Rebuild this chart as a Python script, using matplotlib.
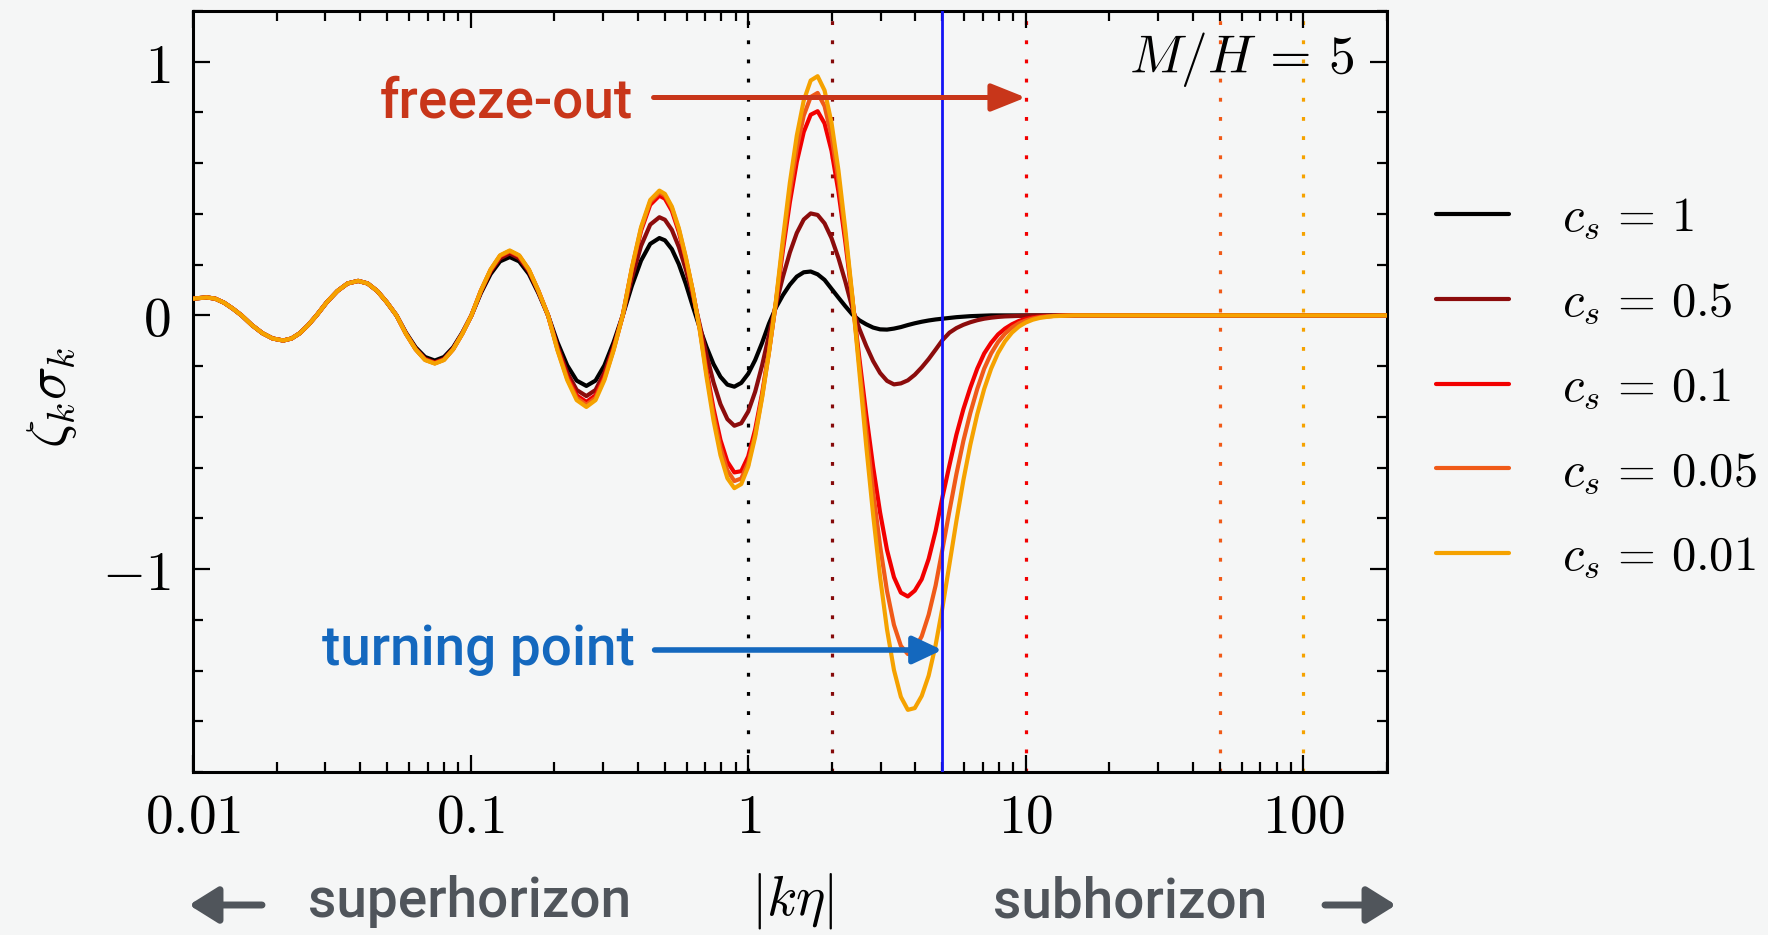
import numpy as np
import matplotlib
matplotlib.use("Agg")
import matplotlib.pyplot as plt
from matplotlib.ticker import FixedLocator, MultipleLocator, LogLocator, NullFormatter

plt.rcParams['mathtext.fontset'] = 'cm'

# ---------------- data ----------------
# sample positions, log10 |k eta|
log_k_eta = [
    -2.000, -1.951, -1.920, -1.888, -1.857, -1.825, -1.788, -1.750, -1.713, -1.675,
    -1.645, -1.615, -1.585, -1.555, -1.518, -1.480, -1.443, -1.405, -1.371, -1.336,
    -1.302, -1.267, -1.233, -1.198, -1.164, -1.129, -1.096, -1.063, -1.030, -0.997,
    -0.963, -0.928, -0.894, -0.859, -0.825, -0.790, -0.756, -0.721, -0.687, -0.652,
    -0.618, -0.583, -0.550, -0.518, -0.485, -0.452, -0.419, -0.386, -0.353, -0.320,
    -0.300, -0.275, -0.250, -0.225, -0.200, -0.175, -0.150, -0.125, -0.100, -0.075,
    -0.050, -0.025, 0.000, 0.025, 0.050, 0.075, 0.100, 0.125, 0.150, 0.175,
    0.200, 0.225, 0.250, 0.275, 0.300, 0.325, 0.350, 0.375, 0.400, 0.425,
    0.450, 0.475, 0.500, 0.525, 0.550, 0.575, 0.600, 0.625, 0.650, 0.675,
    0.700, 0.725, 0.750, 0.775, 0.800, 0.825, 0.850, 0.875, 0.900, 0.925,
    0.950, 0.975, 1.000, 1.025, 1.050, 1.075, 1.100, 1.125, 1.150, 1.175,
    1.200, 1.500, 2.301,
]

# superhorizon part shared by all curves
zeta_common = [
    0.066, 0.071, 0.066, 0.050, 0.027, 0.000, -0.038, -0.070, -0.091, -0.099,
    -0.091, -0.070, -0.038, 0.000, 0.052, 0.096, 0.126, 0.136, 0.126, 0.096,
    0.052, 0.000,
]

zeta_cs1 = zeta_common + [
    -0.068, -0.126, -0.164, -0.178, -0.164, -0.126, -0.068, 0.000,
    0.088, 0.163, 0.213, 0.230, 0.213, 0.163, 0.088, 0.000,
    -0.106, -0.197, -0.257, -0.278, -0.257, -0.197, -0.106, 0.000,
    0.117, 0.216, 0.282, 0.305,
    0.296, 0.261, 0.202, 0.125, 0.037, -0.048, -0.125, -0.192, -0.242, -0.273,
    -0.281, -0.266, -0.230, -0.176, -0.108, -0.032, 0.031, 0.080, 0.121, 0.153,
    0.170, 0.173, 0.162, 0.140, 0.105, 0.070, 0.036, 0.004, -0.019, -0.035,
    -0.048, -0.055, -0.056, -0.052, -0.046, -0.038, -0.031, -0.025, -0.020, -0.016,
    -0.013, -0.010, -0.007, -0.005, -0.003, -0.002, -0.001, 0.000, 0.000, 0.000,
    0.000, 0.000, 0.000, 0.000, 0.000, 0.000, 0.000, 0.000, 0.000, 0.000,
    0.000, 0.000, 0.000,
]

zeta_cs05 = zeta_common + [
    -0.071, -0.131, -0.171, -0.185, -0.171, -0.131, -0.071, 0.000,
    0.093, 0.173, 0.225, 0.244, 0.225, 0.173, 0.093, 0.000,
    -0.122, -0.225, -0.294, -0.318, -0.294, -0.225, -0.122, 0.000,
    0.148, 0.274, 0.358, 0.387,
    0.377, 0.337, 0.270, 0.182, 0.079, -0.035, -0.155, -0.264, -0.350, -0.409,
    -0.435, -0.425, -0.379, -0.301, -0.197, -0.076, 0.044, 0.152, 0.248, 0.325,
    0.378, 0.402, 0.396, 0.363, 0.305, 0.226, 0.133, 0.029, -0.052, -0.120,
    -0.180, -0.227, -0.258, -0.272, -0.268, -0.256, -0.234, -0.205, -0.172, -0.135,
    -0.097, -0.068, -0.050, -0.037, -0.027, -0.019, -0.013, -0.009, -0.006, -0.004,
    -0.003, -0.002, -0.001, 0.000, 0.000, 0.000, 0.000, 0.000, 0.000, 0.000,
    0.000, 0.000, 0.000,
]

zeta_cs01 = zeta_common + [
    -0.072, -0.133, -0.174, -0.188, -0.174, -0.133, -0.072, 0.000,
    0.097, 0.178, 0.233, 0.252, 0.233, 0.178, 0.097, 0.000,
    -0.131, -0.241, -0.315, -0.341, -0.315, -0.241, -0.131, 0.000,
    0.181, 0.334, 0.436, 0.472,
    0.460, 0.412, 0.329, 0.221, 0.096, -0.048, -0.216, -0.367, -0.491, -0.577,
    -0.619, -0.614, -0.556, -0.450, -0.308, -0.138, 0.051, 0.257, 0.446, 0.605,
    0.723, 0.791, 0.805, 0.757, 0.649, 0.488, 0.288, 0.065, -0.166, -0.390,
    -0.597, -0.777, -0.925, -1.032, -1.093, -1.108, -1.085, -1.040, -0.960, -0.850,
    -0.715, -0.590, -0.470, -0.370, -0.285, -0.210, -0.150, -0.108, -0.075, -0.052,
    -0.035, -0.022, -0.013, -0.008, -0.005, -0.003, -0.002, -0.001, 0.000, 0.000,
    0.000, 0.000, 0.000,
]

zeta_cs005 = zeta_common + [
    -0.072, -0.134, -0.175, -0.189, -0.175, -0.134, -0.072, 0.000,
    0.097, 0.180, 0.235, 0.254, 0.235, 0.180, 0.097, 0.000,
    -0.135, -0.249, -0.325, -0.352, -0.325, -0.249, -0.135, 0.000,
    0.186, 0.343, 0.448, 0.485,
    0.472, 0.423, 0.339, 0.227, 0.098, -0.051, -0.230, -0.391, -0.522, -0.611,
    -0.653, -0.643, -0.580, -0.469, -0.319, -0.143, 0.055, 0.280, 0.486, 0.659,
    0.788, 0.861, 0.877, 0.825, 0.707, 0.532, 0.314, 0.070, -0.193, -0.453,
    -0.695, -0.909, -1.087, -1.220, -1.303, -1.335, -1.315, -1.265, -1.180, -1.065,
    -0.920, -0.770, -0.625, -0.495, -0.385, -0.290, -0.210, -0.150, -0.105, -0.072,
    -0.048, -0.031, -0.020, -0.012, -0.007, -0.004, -0.002, -0.001, 0.000, 0.000,
    0.000, 0.000, 0.000,
]

zeta_cs001 = zeta_common + [
    -0.073, -0.134, -0.176, -0.190, -0.176, -0.134, -0.073, 0.000,
    0.098, 0.181, 0.237, 0.256, 0.237, 0.181, 0.098, 0.000,
    -0.138, -0.255, -0.334, -0.361, -0.334, -0.255, -0.138, 0.000,
    0.188, 0.348, 0.455, 0.492,
    0.479, 0.429, 0.344, 0.231, 0.100, -0.055, -0.244, -0.414, -0.551, -0.642,
    -0.681, -0.665, -0.596, -0.479, -0.325, -0.145, 0.059, 0.301, 0.523, 0.709,
    0.847, 0.926, 0.943, 0.887, 0.760, 0.572, 0.337, 0.076, -0.217, -0.513,
    -0.786, -1.031, -1.238, -1.398, -1.504, -1.555, -1.548, -1.500, -1.420, -1.300,
    -1.150, -0.980, -0.810, -0.650, -0.510, -0.390, -0.290, -0.210, -0.148, -0.102,
    -0.068, -0.044, -0.028, -0.017, -0.010, -0.006, -0.003, -0.002, -0.001, 0.000,
    0.000, 0.000, 0.000,
]

series_labels = [r'$c_s\,=\,1$', r'$c_s\,=\,0.5$', r'$c_s\,=\,0.1$', r'$c_s\,=\,0.05$', r'$c_s\,=\,0.01$']
series_values = [zeta_cs1, zeta_cs05, zeta_cs01, zeta_cs005, zeta_cs001]
series_colors = ['#000000', '#8C0C0C', '#F20000', '#F05A18', '#F5A200']

# dotted reference lines and turning point
dotted_x = [1, 2, 10, 50, 100]
dotted_colors = ['#000000', '#850A0A', '#F20000', '#F05A18', '#F5A200']
turning_x = 5

x_ticks = [0.01, 0.1, 1, 10, 100]
x_ticklabels = [r'$0.01$', r'$0.1$', r'$1$', r'$10$', r'$100$']
y_ticks = [-1, 0, 1]
y_ticklabels = [r'$-1$', r'$0$', r'$1$']

# ---------------- figure ----------------
bg = '#F5F6F6'
W, H = 1768, 935
fig = plt.figure(figsize=(W / 100, H / 100), dpi=100, facecolor=bg)
ax = fig.add_axes([193 / W, 1 - 772 / H, (1387 - 193) / W, (772 - 11) / H])
ax.set_facecolor(bg)

x = 10 ** np.array(log_k_eta)

for xv, c in zip(dotted_x, dotted_colors):
    ax.axvline(xv, color=c, lw=2.3, ls=(0, (1.2, 4.8)), zorder=1)

for yv, lab, c in zip(series_values, series_labels, series_colors):
    ax.plot(x, yv, color=c, lw=3.0, label=lab, zorder=3,
            solid_capstyle='round', solid_joinstyle='round')

ax.axvline(turning_x, color='#1414F5', lw=2.0, zorder=4)

ax.set_xscale('log')
ax.set_xlim(0.01, 200)
ax.set_ylim(-1.8, 1.2)
ax.set_xticks(x_ticks)
ax.set_xticklabels(x_ticklabels)
ax.xaxis.set_minor_locator(LogLocator(base=10, subs=(2, 3, 4, 5, 6, 7, 8, 9)))
ax.xaxis.set_minor_formatter(NullFormatter())
ax.yaxis.set_major_locator(FixedLocator(y_ticks))
ax.set_yticklabels(y_ticklabels)
ax.yaxis.set_minor_locator(MultipleLocator(0.2))

for s in ax.spines.values():
    s.set_linewidth(2.2)
ax.tick_params(which='both', direction='in', top=True, right=True, width=1.6, labelsize=40)
ax.tick_params(which='major', length=12)
ax.tick_params(which='minor', length=7)
ax.tick_params(axis='x', which='major', pad=14)
ax.tick_params(axis='y', which='major', pad=16)

# annotations
red_txt = '#C8361A'
blue_txt = '#1468BE'
ax.annotate('', xy=(10, 0.859), xytext=(0.456, 0.859),
            arrowprops=dict(arrowstyle='-|>,head_length=1.0,head_width=0.4', mutation_scale=21,
                            lw=3.6, color=red_txt, shrinkA=0, shrinkB=0), zorder=5)
ax.text(0.0471, 0.781, 'freeze-out', color=red_txt, fontsize=39.5, family='Roboto',
        fontweight='medium', ha='left', va='baseline')
ax.annotate('', xy=(5, -1.319), xytext=(0.46, -1.319),
            arrowprops=dict(arrowstyle='-|>,head_length=0.85,head_width=0.4', mutation_scale=21,
                            lw=4.0, color=blue_txt, shrinkA=0, shrinkB=0), zorder=5)
ax.text(0.0291, -1.378, 'turning point', color=blue_txt, fontsize=39.5, family='Roboto',
        fontweight='medium', ha='left', va='baseline')
ax.text(0.9724, 0.918, r'$M/H\,=\,5$', transform=ax.transAxes, fontsize=38.5,
        ha='right', va='baseline')

# y label
fig.text(0.0294, 0.575, r'$\zeta_k\sigma_k$', rotation=90, fontsize=40, ha='center', va='center')

# legend
ax.legend(loc='center left', bbox_to_anchor=(1436 / W, 1 - 386.7 / H), bbox_transform=fig.transFigure,
          frameon=False, fontsize=35, handlelength=1.5, handletextpad=1.1, labelspacing=0.75,
          borderpad=0, borderaxespad=0)

# bottom annotations
gray = '#50555B'
fig.text(308 / W, (H - 917) / H, 'superhorizon', color=gray, fontsize=39.5, family='Roboto',
         fontweight='medium', ha='left', va='baseline')
fig.text(993 / W, (H - 917) / H, 'subhorizon', color=gray, fontsize=39.5, family='Roboto',
         fontweight='medium', ha='left', va='baseline')
fig.text(792 / W, (H - 901) / H, r'$|k\eta|$', fontsize=40, ha='center', va='center')
fig.add_artist(matplotlib.patches.FancyArrowPatch(
    (262 / W, (H - 905) / H), (189 / W, (H - 905) / H), transform=fig.transFigure,
    arrowstyle='-|>,head_length=0.8,head_width=0.5', mutation_scale=22, lw=5.0, color=gray,
    shrinkA=0, shrinkB=0))
fig.add_artist(matplotlib.patches.FancyArrowPatch(
    (1325 / W, (H - 905) / H), (1396 / W, (H - 905) / H), transform=fig.transFigure,
    arrowstyle='-|>,head_length=0.8,head_width=0.5', mutation_scale=22, lw=5.0, color=gray,
    shrinkA=0, shrinkB=0))

fig.savefig('out.png', dpi=100, facecolor=bg)
